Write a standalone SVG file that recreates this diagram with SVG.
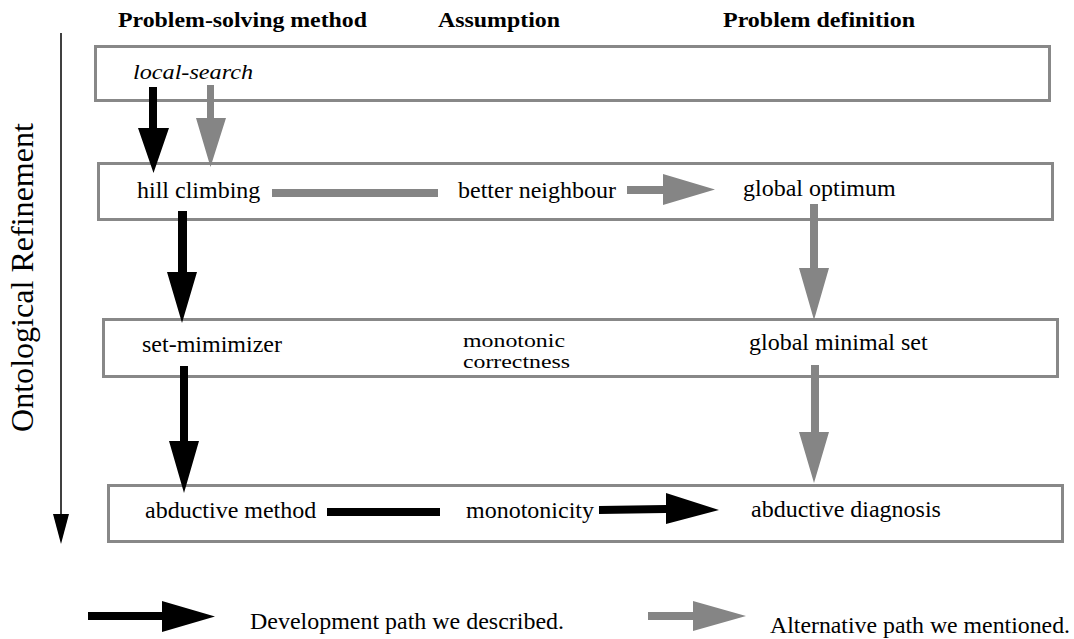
<svg xmlns="http://www.w3.org/2000/svg" width="1074" height="639" viewBox="0 0 1074 639">
<style>
.hdr{font-family:"Liberation Serif","Times New Roman",serif;font-weight:bold;font-size:22px;fill:#000}
.t{font-family:"Liberation Serif","Times New Roman",serif;font-size:24px;fill:#000}
.sm{font-size:19px}
.it{font-style:italic}
.box{fill:#fff;stroke:#888;stroke-width:3}
.blk{fill:#000}
.gry{fill:#858585}
</style>
<rect width="1074" height="639" fill="#fff"/>
<g id="headers">
<text class="hdr" x="118" y="27" textLength="249" lengthAdjust="spacingAndGlyphs">Problem-solving method</text>
<text class="hdr" x="438" y="27" textLength="122" lengthAdjust="spacingAndGlyphs">Assumption</text>
<text class="hdr" x="723" y="27" textLength="192" lengthAdjust="spacingAndGlyphs">Problem definition</text>
</g>
<g id="axis">
<line x1="61" y1="33" x2="61" y2="516" stroke="#000" stroke-width="1.5"/>
<polygon class="blk" points="53,514 69,514 61,544"/>
<text class="t" transform="translate(33,432) rotate(-90)" style="font-size:31px" textLength="309" lengthAdjust="spacingAndGlyphs">Ontological Refinement</text>
</g>
<g id="node-local-search">
<rect class="box" x="95.5" y="46.5" width="954" height="54"/>
<text class="t it" x="133" y="79" style="font-size:21px" textLength="120" lengthAdjust="spacingAndGlyphs">local-search</text>
</g>
<g id="node-row2">
<rect class="box" x="98.5" y="163.5" width="954" height="56"/>
<text class="t" x="137" y="198">hill climbing</text>
<text class="t" x="458" y="198">better neighbour</text>
<text class="t" x="743" y="196">global optimum</text>
</g>
<g id="node-row3">
<rect class="box" x="103.5" y="319.5" width="954" height="57"/>
<text class="t" x="142" y="352">set-mimimizer</text>
<text class="t sm" x="463" y="347" textLength="102" lengthAdjust="spacingAndGlyphs">monotonic</text>
<text class="t sm" x="463" y="368" textLength="107" lengthAdjust="spacingAndGlyphs">correctness</text>
<text class="t" x="749" y="350">global minimal set</text>
</g>
<g id="node-row4">
<rect class="box" x="108.5" y="485.5" width="954" height="56"/>
<text class="t" x="145" y="518">abductive method</text>
<text class="t" x="466" y="518">monotonicity</text>
<text class="t" x="751" y="517">abductive diagnosis</text>
</g>
<g id="connectors">
<polygon class="blk" points="149,87 157,87 157,128 169,128 153.5,173 138,128 149,128"/>
<polygon class="gry" points="207,85 214,85 214,118 226,118 210.5,167 196,118 207,118"/>
<rect class="gry" x="272" y="189" width="166" height="8"/>
<polygon class="gry" points="627,186 663,186 663,174 715,189.5 663,205 663,194 627,194"/>
<polygon class="gry" points="810,204 818,204 818,268 829,268 814,320 799,268 810,268"/>
<polygon class="blk" points="178,211 187,211 187,272 197,272 182,323 167,272 178,272"/>
<polygon class="blk" points="180,366 188,366 188,441 199,441 184,493 169,441 180,441"/>
<polygon class="gry" points="811,365 819,365 819,432 829,432 814,483 799,432 811,432"/>
<rect class="blk" x="327" y="508" width="113" height="8"/>
<polygon class="blk" points="599,506 666,505 666,493 719,510 666,524 666,513 599,514"/>
</g>
<g id="legend">
<polygon class="blk" points="88,612 162,612 162,601 215,616.5 162,632 162,620 88,620"/>
<text class="t" x="250" y="629" textLength="314" lengthAdjust="spacingAndGlyphs">Development path we described.</text>
<polygon class="gry" points="648,612 693,612 693,601 746,616 693,631 693,620 648,620"/>
<text class="t" x="770" y="633" textLength="300" lengthAdjust="spacingAndGlyphs">Alternative path we mentioned.</text>
</g>
</svg>
